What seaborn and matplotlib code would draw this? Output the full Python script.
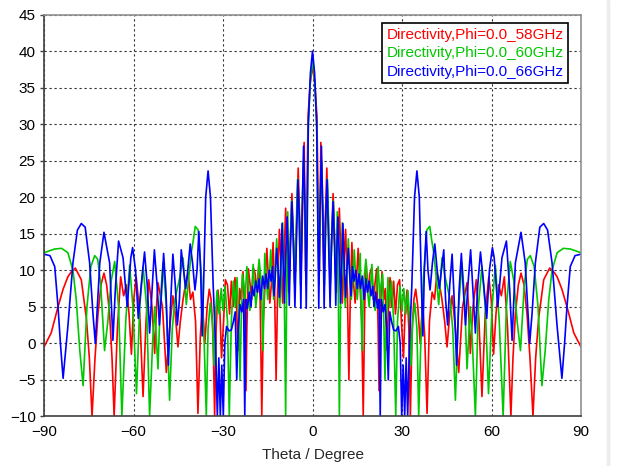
import matplotlib
matplotlib.use('Agg')
import matplotlib.pyplot as plt
from matplotlib.lines import Line2D
import seaborn as sns
import pandas as pd

# half patterns (theta >= 0), the cuts are symmetric about theta = 0
theta_58 = [0, 0.8, 1.5, 2.0, 2.3, 2.8, 3.3, 3.8, 4.3, 4.8, 5.4, 5.9, 6.4, 6.9, 7.5, 8.0, 8.5, 9.0, 9.5, 10.0,
            10.5, 11.1, 11.7, 12.2, 12.7, 13.2, 13.8, 14.3, 14.8, 15.3, 15.9, 16.5, 17.0, 17.5, 18.0, 18.6, 19.2,
            19.8, 20.4, 20.9, 21.5, 22.0, 22.3, 22.7, 23.3, 23.9, 24.4, 25.0, 25.5, 26.0, 26.6, 27.2, 27.8, 28.5,
            29.2, 29.8, 30.5, 31.0, 31.7, 32.3, 32.8, 33.4, 34.0, 34.6, 35.3, 36.1, 36.9, 37.6, 38.4, 39.2, 40.1,
            40.9, 41.7, 42.6, 43.4, 44.3, 45.1, 46.0, 46.8, 47.9, 49.0, 50.3, 51.8, 52.3, 52.9, 53.8, 54.9, 55.8,
            56.8, 57.9, 59.1, 59.9, 60.7, 61.5, 62.4, 63.3, 64.3, 65.4, 66.5, 67.2, 68.0, 69.0, 69.9, 70.9, 71.9,
            72.9, 73.9, 74.8, 75.8, 77.5, 79.5, 81.0, 82.0, 83.6, 85.3, 87.6, 90]
dir_58 = [38, 35.5, 31, 15, 10, 27.5, 19, 10, 17, 24, 15, 8, 14, 20.5, 13, 7, 13, 18.5, 12, 5.5,
          11, 15.6, 7, -5, 7, 13.8, 8, 5.5, 9, 13, 8, 3, -10, 5, 11, 7, 9.5,
          10.3, 6, 8, 10.2, 2, -6.5, 4, 9.8, 6, 7.5, -1, 6, 9, 5, 8.5, 4, 8,
          8.7, 3, -2, 4, 7.3, 2, -10, 2, 6, 7.4, 5, 0, 5.5, 1, -9.6, 3, 7,
          6, 9.6, 8, 6, 3, -0.5, 4, 6.5, 2, -4, 5, 8.3, 5, -1.4, 5, 8.7, 3,
          -7.3, 4, 9.1, 6, -1.5, 4, 8, 6.5, 9.1, 2, -10, -2, 4, 8, 9.6, 8, 4,
          -2, -10, -2, 3.4, 8.7, 10.3, 9.7, 9.1, 7.4, 5, 1.4, -0.5]

theta_60 = [0, 0.7, 1.4, 1.9, 2.2, 2.6, 3.0, 3.6, 4.0, 4.5, 5.0, 5.5, 6.0, 6.5, 7.0, 7.5, 7.9, 8.3, 8.7, 9.0, 9.4,
            10.0, 10.6, 11.0, 11.5, 12.0, 12.6, 13.0, 13.5, 14.0, 14.6, 15.0, 15.5, 16.0, 16.3, 16.6, 17.1,
            17.9, 18.5, 19.0, 19.5, 19.9, 20.5, 21.0, 21.5, 22.0, 22.6, 23.0, 23.5, 23.9, 24.3, 24.7, 25.3,
            25.9, 26.5, 27.2, 27.9, 28.5, 29.3, 30.0, 30.6, 31.3, 32.0, 32.6, 33.0, 33.6, 34.3, 35.0, 35.6,
            36.3, 37.2, 38.3, 39.3, 40.0, 40.6, 41.5, 42.3, 43.4, 44.5, 45.3, 46.1, 47.0, 47.9, 49.0, 50.1,
            51.0, 51.8, 52.9, 53.6, 54.6, 55.6, 56.8, 57.9, 59.0, 60.2, 61.3, 62.6, 63.9, 65.0, 66.3, 67.5,
            68.6, 69.7, 71.0, 72.0, 73.0, 74.3, 75.6, 76.9, 78.0, 79.2, 80.3, 82.0, 84.1, 86.5, 90]
dir_60 = [39, 36, 30, 15, 8, 19, 25, 17, 8, 17, 22.5, 15, 8, 15, 19.5, 13, 7, 18, 5, -10, 5,
          16.5, 8, 5, 9, 14.3, 9, 6, 9, 12.8, 8, 6, 9, 12.3, 5, -1, 8,
          11.5, 7, 5, 8, 10.8, 6, 4.5, 8, 10.5, 6, 8, 9.5, 3, -5, 3, 9,
          5, 8.5, 3, -10, 3, 7.8, 4.5, 7.5, 4, 7.2, 3, -3, 3, 5.5, 2, -10,
          0, 9, 15.5, 16, 14, 12.5, 9, 5.3, 11.7, 9, 7.5, 6, 2, -7.8, 5, 11,
          6, -3.5, 5, 0, -10, 5, 10.5, 5, -6.9, 5, 10.7, 3, -10, 5, 11.2, 8.5,
          3, -1, 8, 11.5, 12, 10.5, 5, -5.8, -1, 6, 10, 12.4, 13, 12.9, 12.4]

theta_66 = [0, 0.7, 1.4, 1.8, 2.1, 2.5, 3.0, 3.5, 3.9, 4.4, 4.9, 5.4, 5.9, 6.4, 6.9, 7.4, 7.8, 8.1, 8.5, 9.0, 9.4,
            9.8, 10.2, 10.7, 11.1, 11.5, 12.0, 12.5, 12.9, 13.4, 13.9, 14.5, 15.0, 15.6, 16.1, 16.7, 17.3,
            17.9, 18.4, 19.0, 19.6, 20.2, 20.6, 21.2, 21.8, 22.3, 22.7, 23.1, 23.7, 24.3, 24.9, 25.4, 25.9,
            26.5, 27.2, 28.0, 28.8, 29.4, 29.9, 30.4, 30.9, 31.4, 31.9, 32.5, 33.3, 34.2, 35.0, 35.8, 36.5,
            37.0, 37.5, 38.1, 38.7, 39.4, 40.2, 41.0, 41.8, 42.5, 43.2, 44.0, 44.6, 45.3, 46.0, 46.8, 47.6,
            48.3, 49.1, 49.9, 50.6, 51.3, 52.1, 53.0, 53.8, 54.6, 55.4, 56.3, 57.4, 58.4, 59.3, 60.3, 60.9,
            62.1, 63.5, 65.0, 66.1, 66.9, 68.0, 69.9, 71.3, 72.8, 73.6, 74.7, 76.2, 77.5, 78.8, 80.3, 82.0,
            83.6, 84.5, 85.3, 86.4, 88.0, 90]
dir_66 = [40, 37, 30, 15, 4.8, 18, 27, 17, 4.8, 17, 22.4, 14, 5, 14, 19.4, 13, 5.2, 12, 17.3, 12, 5.5,
          11, 16.4, 10, 6.3, 10, 13, 9, 6.5, 10.5, 8.5, 10, 7.5, 9.5, 7.5, 9.2, 6,
          8.8, 7, 8.5, 6.5, 7.8, 5, 7, 4.8, 6, -10, 6, 4.3, 5.3, 2, -5, 4.3,
          3, 1.8, 1.7, 2.3, 0, -10, -3, -10, -2, -10, 0, 8, 20, 23.6, 20, 8,
          1, 10, 15.3, 10, 7.3, 11, 13.6, 10, 7.5, 10, 12.8, 6, 2.5, 8, 12.2, 5,
          -3, 7, 12.3, 7, 2.5, 8, 12.8, 7, 1.4, 8, 12.5, 8, 3.4, 10, 13.1, 11.7,
          5, 11.7, 14, 7.3, 0.4, 11, 15.2, 11, 0, 4.1, 11, 15.9, 16.4, 15.5, 11, 2.3,
          -4.8, 0, 5, 10.5, 12, 12.2]

series_names = ['Directivity,Phi=0.0_58GHz', 'Directivity,Phi=0.0_60GHz', 'Directivity,Phi=0.0_66GHz']
series_colors = ['#ff0000', '#00c800', '#0000ff']


def full_cut(theta, vals, name):
    # mirror the half pattern onto negative theta
    t = [-x for x in reversed(theta[1:])] + list(theta)
    v = list(reversed(vals[1:])) + list(vals)
    return pd.DataFrame({'theta': t, 'directivity': v, 'series': name})


df = pd.concat([full_cut(theta_58, dir_58, series_names[0]),
                full_cut(theta_60, dir_60, series_names[1]),
                full_cut(theta_66, dir_66, series_names[2])], ignore_index=True)

sns.set_theme(style='white')
plt.rcParams['font.family'] = ['Liberation Sans', 'DejaVu Sans']

fig = plt.figure(figsize=(6.25, 4.66), dpi=100)
ax = fig.add_axes([0.0704, 0.1067, 0.8592, 0.8618])

sns.lineplot(data=df, x='theta', y='directivity', hue='series', hue_order=series_names,
             palette=series_colors, estimator=None, sort=False, linewidth=1.2, ax=ax, legend=False)

ax.set_xlim(-90, 90)
ax.set_ylim(-10, 45)
ax.set_xticks(range(-90, 91, 30))
ax.set_yticks(range(-10, 46, 5))
ax.grid(True, color='#303030', linestyle=(0, (2, 2.5)), linewidth=0.8)
ax.set_axisbelow(True)
ax.tick_params(axis='x', length=0, pad=6, labelsize=11, colors='black')
ax.tick_params(axis='y', length=3, width=1, pad=3, labelsize=11, colors='black', left=True)
ax.tick_params(axis='y', color='#404040')
ax.set_xlabel('Theta / Degree', fontsize=11, labelpad=7)
ax.set_ylabel('')

for side in ['left', 'bottom']:
    ax.spines[side].set_color('#404040')
    ax.spines[side].set_linewidth(1.2)
for side in ['top', 'right']:
    ax.spines[side].set_color('#909090')
    ax.spines[side].set_linewidth(1.2)

handles = [Line2D([], [], color='none') for _ in series_names]
leg = ax.legend(handles, series_names, loc='upper right', bbox_to_anchor=(0.976, 0.979),
                borderaxespad=0, handlelength=0, handletextpad=0, labelcolor=series_colors,
                fontsize=11, fancybox=False, framealpha=1, edgecolor='black',
                borderpad=0.3, labelspacing=0.3)
leg.get_frame().set_linewidth(1.2)

# light separator strip at the right edge of the screenshot
fig.add_artist(Line2D([0.9735, 0.9735], [0, 1], color='#ececec', linewidth=2.5))

fig.savefig('out.png', dpi=100)
